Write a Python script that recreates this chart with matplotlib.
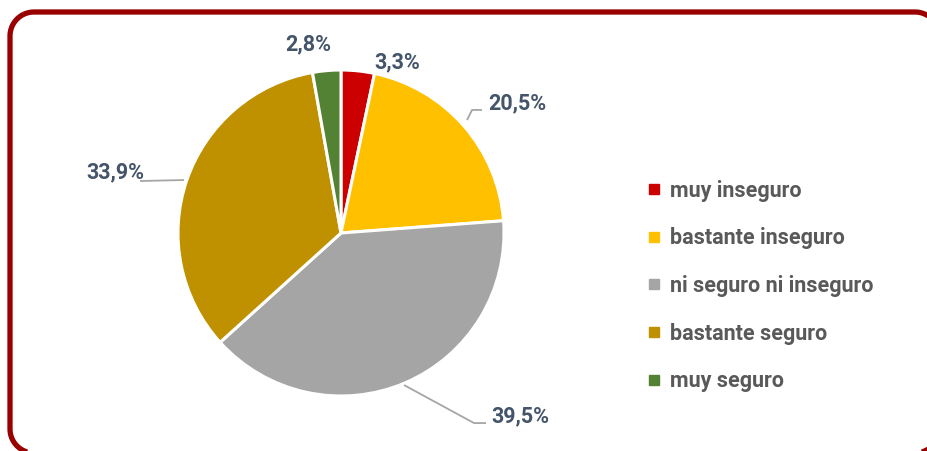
import matplotlib
matplotlib.use("Agg")
import numpy as np
import matplotlib.pyplot as plt
from matplotlib.patches import PathPatch
from matplotlib.path import Path
from matplotlib.lines import Line2D

categories = ["muy inseguro", "bastante inseguro", "ni seguro ni inseguro",
              "bastante seguro", "muy seguro"]
values = [3.3, 20.5, 39.5, 33.9, 2.8]
labels = ["3,3%", "20,5%", "39,5%", "33,9%", "2,8%"]
colors = ["#CC0000", "#FFC000", "#A5A5A5", "#BF9000", "#548235"]

W, H = 928, 451
fig = plt.figure(figsize=(W / 100, H / 100), dpi=100)
fig.patch.set_facecolor("white")


def rounded_rect(x0, y0, x1, y1, r, n=20):
    pts = []
    corners = [(x1 - r, y1 - r, 0), (x0 + r, y1 - r, 90),
               (x0 + r, y0 + r, 180), (x1 - r, y0 + r, 270)]
    for cxc, cyc, a0 in corners:
        t = np.radians(np.linspace(a0, a0 + 90, n))
        pts.extend(zip(cxc + r * np.cos(t), cyc + r * np.sin(t)))
    pts.append(pts[0])
    return Path(pts)


# border in display pixel coordinates (y up)
border = PathPatch(rounded_rect(10, H - 453, 939, H - 12, 24),
                   transform=None, linewidth=3.8, edgecolor="#990000",
                   facecolor="none", joinstyle="round")
fig.patches.append(border)

# pie axes: center at (341,233) px, radius 163 px
cx, cy, R = 341, 233, 163
ax = fig.add_axes([0, 0, 1, 1])
ax.patch.set_visible(False)
ax.pie(values, colors=colors, startangle=90, counterclock=False,
       wedgeprops=dict(edgecolor="white", linewidth=2.2))
ax.set_aspect("auto")
ax.set_xlim(-cx / R, (W - cx) / R)
ax.set_ylim(-(H - cy) / R, cy / R)
ax.axis("off")

FONT = ["Roboto", "DejaVu Sans"]

# label positions (pie radius units)
label_pos = [(0.344, 1.049), (1.079, 0.798), (1.098, -1.123),
             (-1.387, 0.374), (-0.202, 1.160)]
label_col = "#44546A"
for txt, (x, y) in zip(labels, label_pos):
    ax.text(x, y, txt, ha="center", va="center", fontsize=15.5,
            fontweight="bold", color=label_col, family=FONT)

# leader lines
leaders = [
    [(0.773, 0.693), (0.804, 0.755), (0.865, 0.755)],
    [(0.387, -0.933), (0.816, -1.166), (0.890, -1.166)],
    [(-0.963, 0.325), (-1.233, 0.319)],
]
for pts in leaders:
    xs, ys = zip(*pts)
    ax.plot(xs, ys, color="#A6A6A6", linewidth=1.3, solid_capstyle="butt")

# legend
handles = [Line2D([], [], marker="s", linestyle="", markersize=6.5,
                  markerfacecolor=c, markeredgecolor=c) for c in colors]
leg = fig.legend(handles, categories, loc="center left",
                 bbox_to_anchor=(648 / W, 1 - 286 / H),
                 frameon=False, borderpad=0, borderaxespad=0,
                 handlelength=0.6, handletextpad=0.4, labelspacing=1.19,
                 prop=dict(family=FONT, weight="bold", size=15.5))
for t in leg.get_texts():
    t.set_color("#595959")

fig.savefig("out.png", dpi=100)
